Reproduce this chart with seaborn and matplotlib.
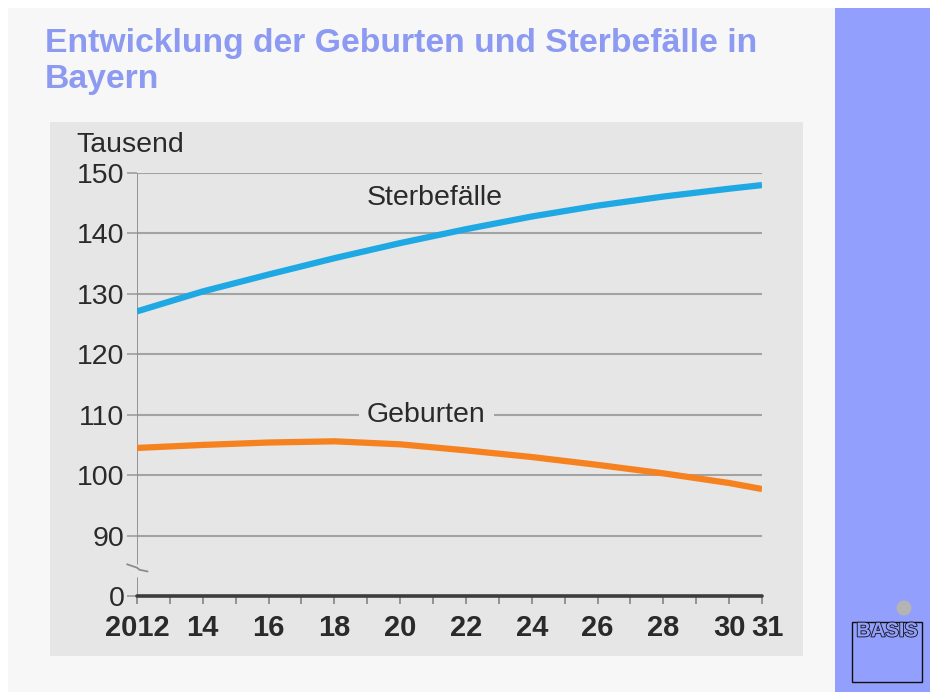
import matplotlib
matplotlib.use("Agg")
import matplotlib.pyplot as plt
import matplotlib.patches as mpatches
import matplotlib.patheffects as pe
import matplotlib.transforms as mtransforms
import numpy as np
import pandas as pd
import seaborn as sns

# ---- data (thousand persons per year) ----
years = [2012, 2014, 2016, 2018, 2020, 2022, 2024, 2026, 2028, 2030, 2031]
sterbefaelle = [127.1, 130.4, 133.2, 135.9, 138.4, 140.7, 142.8, 144.6, 146.1, 147.4, 148.0]
geburten = [104.5, 105.0, 105.4, 105.6, 105.1, 104.1, 103.0, 101.7, 100.3, 98.7, 97.7]
series_names = ["Sterbefälle", "Geburten"]
series_colors = ["#1ea8e4", "#f5821f"]

y_tick_values = [80, 90, 100, 110, 120, 130, 140, 150]
y_tick_labels = ["0", "90", "100", "110", "120", "130", "140", "150"]
x_tick_years = list(range(2012, 2032))
x_tick_labels = ["2012" if y == 2012 else (str(y)[2:] if (y % 2 == 0 or y == 2031) else "")
                 for y in x_tick_years]

title_lines = ["Entwicklung der Geburten und Sterbefälle in", "Bayern"]
unit = "Tausend"

df = pd.DataFrame({
    "Jahr": years * 2,
    "Wert": sterbefaelle + geburten,
    "Reihe": [series_names[0]] * len(years) + [series_names[1]] * len(years),
})

sns.set_style("white")
plt.rcParams["font.family"] = ["Liberation Sans", "DejaVu Sans"]

W, H = 930, 692
fig = plt.figure(figsize=(W / 100, H / 100), dpi=100)
fig.patch.set_facecolor("white")

def px_rect(x0, y0, x1, y1, **kw):
    return mpatches.Rectangle((x0 / W, 1 - y1 / H), (x1 - x0) / W, (y1 - y0) / H,
                              transform=fig.transFigure, **kw)

# slide background, side bar and chart panel
fig.patches.append(px_rect(8, 8, 835, 692, facecolor="#f7f7f7", edgecolor="none", zorder=0))
fig.patches.append(px_rect(835, 8, 930, 692, facecolor="#939ffc", edgecolor="none", zorder=0))
fig.patches.append(px_rect(50, 122, 803, 656, facecolor="#e6e6e6", edgecolor="none", zorder=0))

# title, two lines
for i, line in enumerate(title_lines):
    fig.text(45 / W, 1 - (52 + 36 * i) / H, line, ha="left", va="baseline", color="#8c9af2",
             fontsize=24.3, fontweight="bold")

# main axes: left edge = 2012, right = 2031, bottom = "0", top = 150
ax = fig.add_axes([137 / W, 1 - 596 / H, (762 - 137) / W, (596 - 173) / H])
ax.set_zorder(5)
ax.set_facecolor("none")

sns.lineplot(data=df, x="Jahr", y="Wert", hue="Reihe", palette=series_colors,
             hue_order=series_names, linewidth=4.5, ax=ax, legend=False,
             zorder=3)
for ln in ax.get_lines():
    ln.set_solid_capstyle("butt")

ax.set_xlim(2012, 2031)
ax.set_ylim(80, 150)

# horizontal grid lines
for v in y_tick_values[1:]:
    ax.axhline(v, color="#a3a3a3", linewidth=1.5, zorder=1)

for s in ax.spines.values():
    s.set_visible(False)

# x axis line
ax.axhline(80, color="#3c3c3c", linewidth=2.6, zorder=4, clip_on=False)
# y axis line with a break between "0" and 90
ax.axvline(2012, ymin=0, ymax=(83 - 80) / 70, color="#8c8c8c", linewidth=1.3, zorder=2)
ax.axvline(2012, ymin=(85.3 - 80) / 70, ymax=1, color="#8c8c8c", linewidth=1.3, zorder=2)
ax.plot([-0.016, 0.0, 0.004, 0.017], [0.075, 0.067, 0.062, 0.058], transform=ax.transAxes,
        color="#8c8c8c", linewidth=1.3, clip_on=False, zorder=2)

ax.set_yticks(y_tick_values)
ax.set_yticklabels(y_tick_labels)
ax.set_xticks(x_tick_years)
ax.set_xticklabels(x_tick_labels)
ax.tick_params(axis="y", length=7, width=1.3, color="#a3a3a3", pad=2,
               labelsize=20.5, labelcolor="#2a2a2a", left=True)
ax.tick_params(axis="x", length=6, width=1.3, color="#8c8c8c", pad=7,
               labelsize=21, labelcolor="#2a2a2a", bottom=True, direction="out")
for lab in ax.get_xticklabels():
    lab.set_fontweight("bold")
# nudge the last year label so it does not touch its neighbour
last = ax.get_xticklabels()[-1]
last.set_transform(last.get_transform()
                   + mtransforms.ScaledTranslation(5 / 100, 0, fig.dpi_scale_trans))
ax.set_xlabel("")
ax.set_ylabel("")

# unit label
fig.text(76 / W, 1 - 152 / H, unit, fontsize=20.5, color="#2a2a2a",
         ha="left", va="baseline")

# series labels
ax.text(2021.05, 145.8, series_names[0], fontsize=20.5, color="#2a2a2a",
        ha="center", va="center", zorder=5)
ax.text(2020.8, 110.0, series_names[1], fontsize=20.5, color="#2a2a2a",
        ha="center", va="center", zorder=5,
        bbox=dict(boxstyle="square,pad=0.3", facecolor="#e6e6e6", edgecolor="none"))

# logo in the side bar
fig.patches.append(px_rect(852, 622, 922, 682, facecolor="none", edgecolor="#111111",
                           linewidth=1.0, zorder=2))
fig.patches.append(mpatches.Ellipse((904 / W, 1 - 608 / H), 15 / W, 15 / H,
                                    transform=fig.transFigure,
                                    facecolor="#b4b4b4", edgecolor="none", zorder=3))
fig.text(887 / W, 1 - 631 / H, "BASIS", ha="center", va="center", fontsize=14.5,
         fontweight="bold", color="#939ffc", zorder=4,
         path_effects=[pe.Stroke(linewidth=1.2, foreground="#111111"), pe.Normal()])

fig.savefig("out.png", dpi=100)
